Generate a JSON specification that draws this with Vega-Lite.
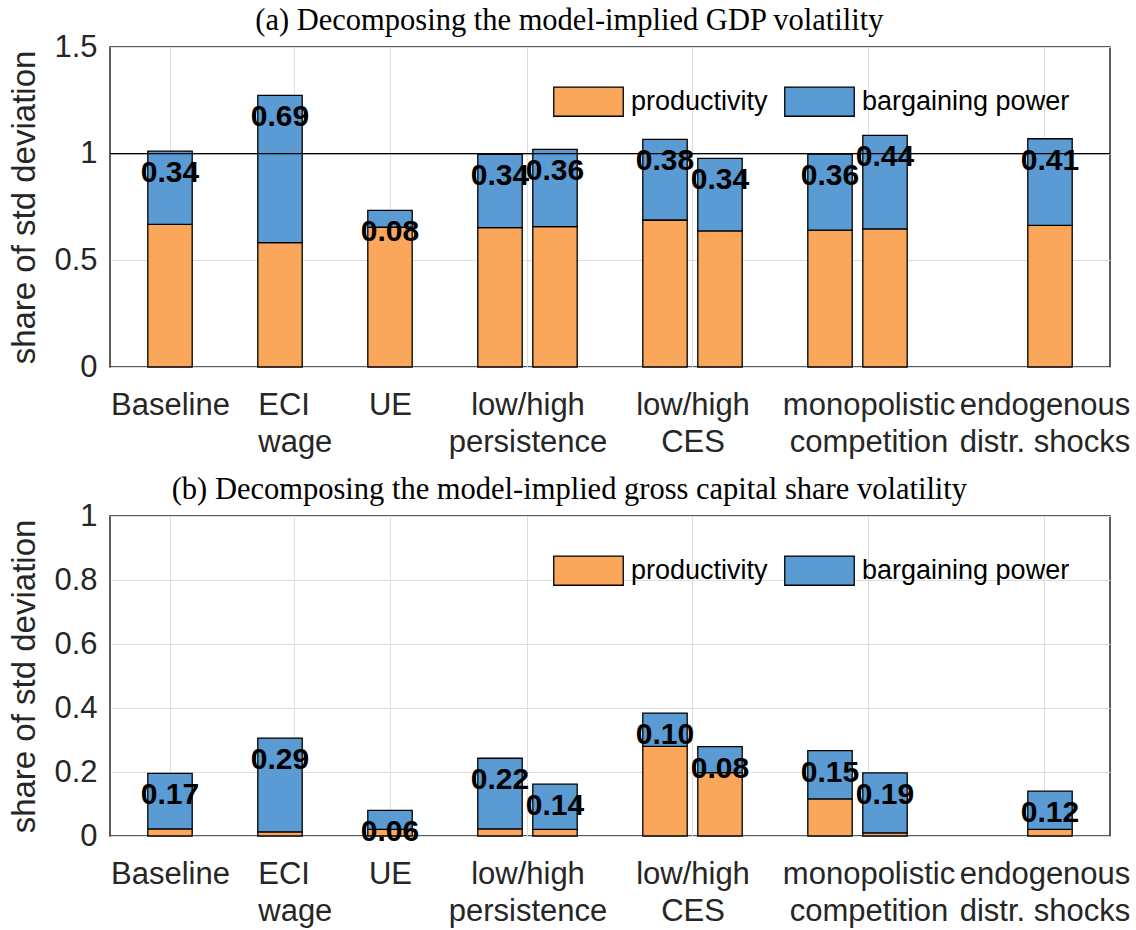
{
  "$schema": "https://vega.github.io/schema/vega-lite/v6.json",
  "background": "white",
  "padding": {"left": 8, "top": 4, "right": 5, "bottom": 2},
  "datasets": {
    "gdp": [
      {"scenario": "Baseline", "x": 1, "component": "productivity", "value": 0.669},
      {"scenario": "Baseline", "x": 1, "component": "bargaining power", "value": 0.343},
      {"scenario": "ECI wage", "x": 2, "component": "productivity", "value": 0.583},
      {"scenario": "ECI wage", "x": 2, "component": "bargaining power", "value": 0.690},
      {"scenario": "UE", "x": 3, "component": "productivity", "value": 0.655},
      {"scenario": "UE", "x": 3, "component": "bargaining power", "value": 0.079},
      {"scenario": "low persistence", "x": 4, "component": "productivity", "value": 0.653},
      {"scenario": "low persistence", "x": 4, "component": "bargaining power", "value": 0.344},
      {"scenario": "high persistence", "x": 4.5, "component": "productivity", "value": 0.658},
      {"scenario": "high persistence", "x": 4.5, "component": "bargaining power", "value": 0.362},
      {"scenario": "low CES", "x": 5.5, "component": "productivity", "value": 0.689},
      {"scenario": "low CES", "x": 5.5, "component": "bargaining power", "value": 0.378},
      {"scenario": "high CES", "x": 6, "component": "productivity", "value": 0.638},
      {"scenario": "high CES", "x": 6, "component": "bargaining power", "value": 0.340},
      {"scenario": "monopolistic competition 1", "x": 7, "component": "productivity", "value": 0.642},
      {"scenario": "monopolistic competition 1", "x": 7, "component": "bargaining power", "value": 0.356},
      {"scenario": "monopolistic competition 2", "x": 7.5, "component": "productivity", "value": 0.647},
      {"scenario": "monopolistic competition 2", "x": 7.5, "component": "bargaining power", "value": 0.439},
      {"scenario": "endogenous distr. shocks", "x": 9, "component": "productivity", "value": 0.664},
      {"scenario": "endogenous distr. shocks", "x": 9, "component": "bargaining power", "value": 0.406}
    ],
    "capshare": [
      {"scenario": "Baseline", "x": 1, "component": "productivity", "value": 0.022},
      {"scenario": "Baseline", "x": 1, "component": "bargaining power", "value": 0.174},
      {"scenario": "ECI wage", "x": 2, "component": "productivity", "value": 0.013},
      {"scenario": "ECI wage", "x": 2, "component": "bargaining power", "value": 0.293},
      {"scenario": "UE", "x": 3, "component": "productivity", "value": 0.021},
      {"scenario": "UE", "x": 3, "component": "bargaining power", "value": 0.059},
      {"scenario": "low persistence", "x": 4, "component": "productivity", "value": 0.022},
      {"scenario": "low persistence", "x": 4, "component": "bargaining power", "value": 0.221},
      {"scenario": "high persistence", "x": 4.5, "component": "productivity", "value": 0.021},
      {"scenario": "high persistence", "x": 4.5, "component": "bargaining power", "value": 0.141},
      {"scenario": "low CES", "x": 5.5, "component": "productivity", "value": 0.280},
      {"scenario": "low CES", "x": 5.5, "component": "bargaining power", "value": 0.104},
      {"scenario": "high CES", "x": 6, "component": "productivity", "value": 0.198},
      {"scenario": "high CES", "x": 6, "component": "bargaining power", "value": 0.081},
      {"scenario": "monopolistic competition 1", "x": 7, "component": "productivity", "value": 0.116},
      {"scenario": "monopolistic competition 1", "x": 7, "component": "bargaining power", "value": 0.151},
      {"scenario": "monopolistic competition 2", "x": 7.5, "component": "productivity", "value": 0.010},
      {"scenario": "monopolistic competition 2", "x": 7.5, "component": "bargaining power", "value": 0.187},
      {"scenario": "endogenous distr. shocks", "x": 9, "component": "productivity", "value": 0.021},
      {"scenario": "endogenous distr. shocks", "x": 9, "component": "bargaining power", "value": 0.119}
    ],
    "reference": [{"level": 1}]
  },
  "config": {
    "view": {"stroke": "#262626", "strokeWidth": 1.5},
    "font": "Liberation Sans",
    "axis": {
      "grid": true, "gridColor": "#DEDEDE", "gridWidth": 1,
      "domain": false, "ticks": false,
      "labelFont": "Liberation Sans", "labelFontSize": 31, "labelColor": "#262626",
      "titleFont": "Liberation Sans", "titleFontSize": 33, "titleFontWeight": "normal", "titleColor": "#262626"
    },
    "title": {"font": "Liberation Serif", "fontSize": 30.5, "fontWeight": "normal", "color": "black", "frame": "bounds", "anchor": "middle", "offset": -5},
    "legend": {
      "orient": "none", "legendX": 443, "legendY": 19, "direction": "horizontal", "title": null,
      "symbolType": "M-1,-0.42H1V0.42H-1Z", "symbolSize": 4830, "symbolStrokeColor": "black", "symbolStrokeWidth": 1.3,
      "symbolOpacity": 1,
      "labelFont": "Liberation Sans", "labelFontSize": 27, "labelColor": "black", "labelOffset": 7,
      "columnPadding": 14, "padding": 0, "labelLimit": 400
    }
  },
  "spacing": 15,
  "resolve": {"scale": {"color": "independent"}, "legend": {"color": "independent"}},
  "vconcat": [
    {
      "title": {"text": "(a) Decomposing the model-implied GDP volatility"},
      "width": 1000, "height": 320,
      "data": {"name": "gdp"},
      "layer": [
        {
          "mark": {"type": "bar", "width": 44.4, "stroke": "black", "strokeWidth": 1.3},
          "encoding": {
            "x": {"field": "x", "type": "quantitative",
              "scale": {"domain": [0.5, 9.5], "nice": false, "zero": false},
              "axis": {"title": null, "values": [1, 2.125, 3, 4.25, 5.75, 7.35, 8.95],
                "labelExpr": "datum.value < 1.5 ? 'Baseline' : datum.value < 2.5 ? ['ECI', 'wage'] : datum.value < 3.5 ? 'UE' : datum.value < 5 ? ['low/high', 'persistence'] : datum.value < 6.5 ? ['low/high', 'CES'] : datum.value < 8 ? ['monopolistic', 'competition'] : ['endogenous', 'distr. shocks']",
                "labelAlign": {"condition": {"test": "datum.value > 2 && datum.value < 2.5", "value": "left"}, "value": "center"},
                "labelOffset": {"condition": {"test": "datum.value > 2 && datum.value < 2.5", "value": -36}, "value": 0},
                "labelPadding": 23, "labelLineHeight": 37, "labelBaseline": "top", "labelFlush": false, "labelOverlap": false, "labelBound": false}},
            "y": {"field": "value", "type": "quantitative", "stack": "zero",
              "scale": {"domain": [0, 1.5], "nice": false},
              "axis": {"title": "share of std deviation", "values": [0, 0.5, 1, 1.5], "format": "~g", "labelPadding": 13, "titlePadding": 12}},
            "color": {"field": "component", "type": "nominal",
              "scale": {"domain": ["productivity", "bargaining power"], "range": ["#FAA75B", "#5A9BD4"]}},
            "order": {"field": "component", "sort": "descending"}
          }
        },
        {
          "data": {"name": "reference"},
          "mark": {"type": "rule", "color": "black", "strokeWidth": 1.3},
          "encoding": {"y": {"field": "level", "type": "quantitative"}}
        },
        {
          "transform": [
            {"joinaggregate": [{"op": "sum", "field": "value", "as": "total"}], "groupby": ["scenario"]},
            {"filter": "datum.component === 'bargaining power'"}
          ],
          "mark": {"type": "text", "font": "Liberation Sans", "fontSize": 30, "fontWeight": "bold", "color": "black", "baseline": "middle", "align": "center", "dy": 22},
          "encoding": {
            "x": {"field": "x", "type": "quantitative"},
            "y": {"field": "total", "type": "quantitative"},
            "text": {"field": "value", "type": "quantitative", "format": ".2f"}
          }
        }
      ]
    },
    {
      "title": {"text": "(b) Decomposing the model-implied gross capital share volatility"},
      "width": 1000, "height": 320,
      "data": {"name": "capshare"},
      "layer": [
        {
          "mark": {"type": "bar", "width": 44.4, "stroke": "black", "strokeWidth": 1.3},
          "encoding": {
            "x": {"field": "x", "type": "quantitative",
              "scale": {"domain": [0.5, 9.5], "nice": false, "zero": false},
              "axis": {"title": null, "values": [1, 2.125, 3, 4.25, 5.75, 7.35, 8.95],
                "labelExpr": "datum.value < 1.5 ? 'Baseline' : datum.value < 2.5 ? ['ECI', 'wage'] : datum.value < 3.5 ? 'UE' : datum.value < 5 ? ['low/high', 'persistence'] : datum.value < 6.5 ? ['low/high', 'CES'] : datum.value < 8 ? ['monopolistic', 'competition'] : ['endogenous', 'distr. shocks']",
                "labelAlign": {"condition": {"test": "datum.value > 2 && datum.value < 2.5", "value": "left"}, "value": "center"},
                "labelOffset": {"condition": {"test": "datum.value > 2 && datum.value < 2.5", "value": -36}, "value": 0},
                "labelPadding": 23, "labelLineHeight": 37, "labelBaseline": "top", "labelFlush": false, "labelOverlap": false, "labelBound": false}},
            "y": {"field": "value", "type": "quantitative", "stack": "zero",
              "scale": {"domain": [0, 1], "nice": false},
              "axis": {"title": "share of std deviation", "values": [0, 0.2, 0.4, 0.6, 0.8, 1], "format": "~g", "labelPadding": 13, "titlePadding": 12}},
            "color": {"field": "component", "type": "nominal",
              "scale": {"domain": ["productivity", "bargaining power"], "range": ["#FAA75B", "#5A9BD4"]}},
            "order": {"field": "component", "sort": "descending"}
          }
        },
        {
          "transform": [
            {"joinaggregate": [{"op": "sum", "field": "value", "as": "total"}], "groupby": ["scenario"]},
            {"filter": "datum.component === 'bargaining power'"}
          ],
          "mark": {"type": "text", "font": "Liberation Sans", "fontSize": 30, "fontWeight": "bold", "color": "black", "baseline": "middle", "align": "center", "dy": 22},
          "encoding": {
            "x": {"field": "x", "type": "quantitative"},
            "y": {"field": "total", "type": "quantitative"},
            "text": {"field": "value", "type": "quantitative", "format": ".2f"}
          }
        }
      ]
    }
  ]
}
